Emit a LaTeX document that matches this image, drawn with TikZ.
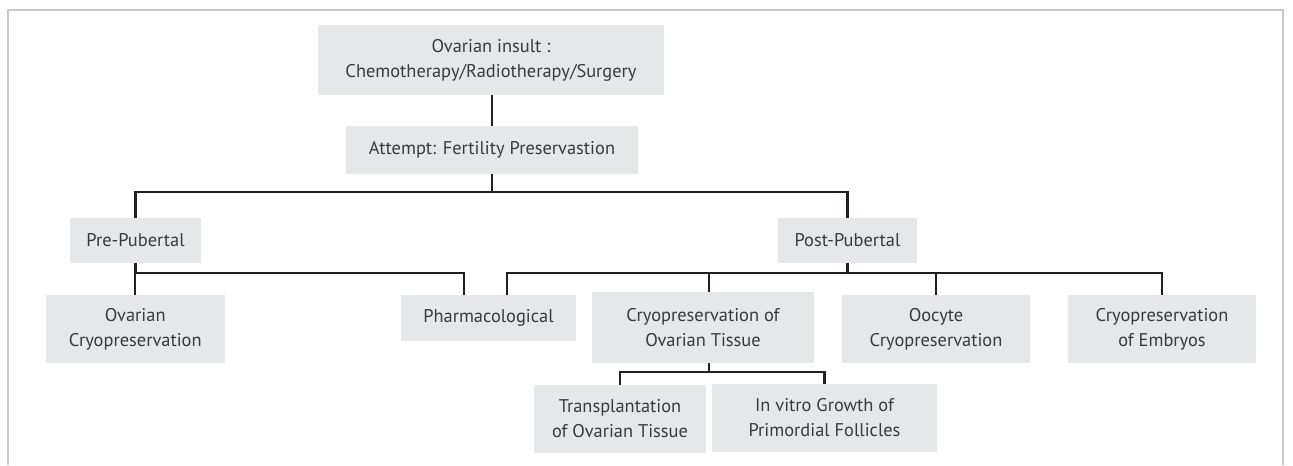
\documentclass[tikz,border=0pt]{standalone}
\usepackage{fontspec}
\setmainfont{PT Sans}
\definecolor{boxfill}{HTML}{E6E7E8}
\definecolor{lncol}{HTML}{231F20}
\definecolor{txtcol}{HTML}{3A3A3A}
\definecolor{framecol}{HTML}{C8C8C8}
\begin{document}
\begin{tikzpicture}[x=0.75pt,y=-0.75pt,
  bx/.style={fill=boxfill,draw=none,inner sep=0pt,align=center,text=txtcol,
    font=\fontsize{13.8}{18.8}\selectfont},
  ln/.style={draw=lncol,line width=1.6pt,line join=miter},
  frm/.style={draw=framecol,line width=1.1pt}]
\useasboundingbox (0,0) rectangle (1293,465);
\draw[frm] (8,465) -- (8,10) -- (1283,10) -- (1283,465);
% nodes
\node[bx,minimum width=346*0.75pt,minimum height=70*0.75pt] (top) at (491,60) {Ovarian insult :\\Chemotherapy/Radiotherapy/Surgery};
\node[bx,minimum width=292*0.75pt,minimum height=48*0.75pt] (attempt) at (492,150) {Attempt: Fertility Preservastion};
\node[bx,minimum width=131*0.75pt,minimum height=45*0.75pt] (pre) at (135.5,240.5) {Pre-Pubertal};
\node[bx,minimum width=139*0.75pt,minimum height=45*0.75pt] (post) at (847.5,240.5) {Post-Pubertal};
\node[bx,minimum width=178.5*0.75pt,minimum height=68*0.75pt] (ovcryo) at (135.25,329) {Ovarian\\Cryopreservation};
\node[bx,minimum width=175*0.75pt,minimum height=46*0.75pt] (pharm) at (488.5,318) {Pharmacological};
\node[bx,minimum width=222*0.75pt,minimum height=71*0.75pt] (cryotis) at (703,327.5) {Cryopreservation of\\Ovarian Tissue};
\node[bx,minimum width=188*0.75pt,minimum height=68*0.75pt] (oocyte) at (936,329) {Oocyte\\Cryopreservation};
\node[bx,minimum width=188*0.75pt,minimum height=68*0.75pt] (embryo) at (1162,329) {Cryopreservation\\of Embryos};
\node[bx,minimum width=172*0.75pt,minimum height=68*0.75pt] (transp) at (620,419) {Transplantation\\of Ovarian Tissue};
\node[bx,minimum width=225*0.75pt,minimum height=68*0.75pt] (invitro) at (824.5,418) {In vitro Growth of\\Primordial Follicles};
% bus coordinates
\coordinate (b1) at (492,192);
\coordinate (b2) at (0,272.7);
\coordinate (b3) at (0,372);
\coordinate (xpharmL) at (464,0);
\coordinate (xpharmR) at (507,0);
\coordinate (xcryo) at (708.7,0);
% connectors
\draw[ln] (attempt.north |- top.south) -- (attempt.north);
\draw[ln] (attempt.south) -- (b1);
\draw[ln] (pre.north) -- (pre.north |- b1) -- (post.north |- b1) -- (post.north);
\draw[ln] (ovcryo.north) -- (ovcryo.north |- b2) -- (xpharmL |- b2) -- (xpharmL |- pharm.north);
\draw[ln] (pre.south) -- (pre.south |- b2);
\draw[ln] (xpharmR |- pharm.north) -- (xpharmR |- b2) -- (embryo.north |- b2) -- (embryo.north);
\draw[ln] (post.south) -- (post.south |- b2);
\draw[ln] (xcryo |- b2) -- (xcryo |- cryotis.north);
\draw[ln] (oocyte.north |- b2) -- (oocyte.north);
\draw[ln] (xcryo |- cryotis.south) -- (xcryo |- b3);
\draw[ln] (transp.north) -- (transp.north |- b3) -- (invitro.north |- b3) -- (invitro.north);
\end{tikzpicture}
\end{document}
